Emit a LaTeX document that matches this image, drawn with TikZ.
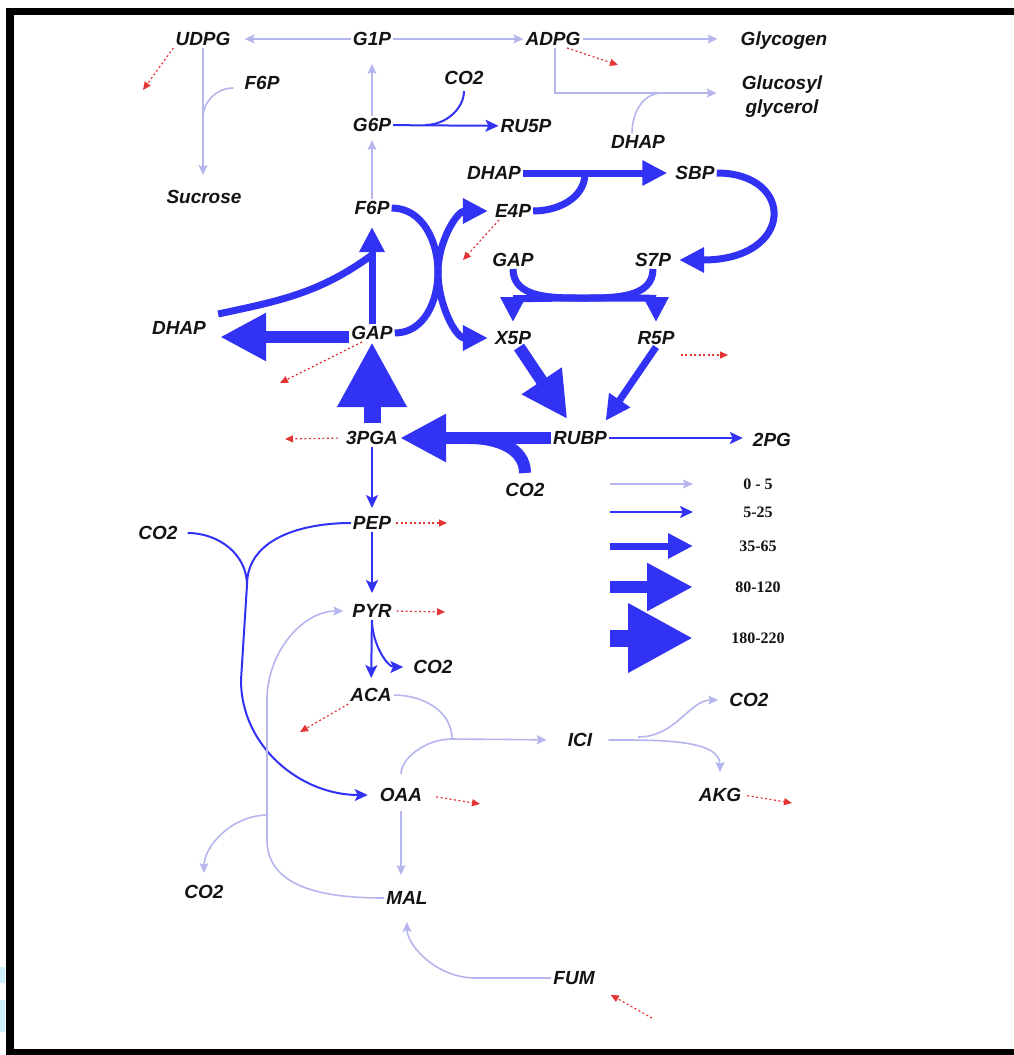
\documentclass[tikz,border=0pt]{standalone}
\usepackage{fontspec}
\setmainfont{Liberation Sans}
\newfontfamily\legendfont{Liberation Serif}
\usetikzlibrary{arrows.meta}

\definecolor{flux}{RGB}{50,50,245}
\definecolor{lite}{RGB}{182,182,238}
\definecolor{drainred}{RGB}{228,52,52}
\definecolor{ink}{RGB}{20,20,20}
\definecolor{edgecyan}{RGB}{205,240,250}

\tikzset{
  metbase/.style={font=\fontsize{19}{24}\selectfont\bfseries\itshape, text=ink, inner sep=2pt},
  met/.style={metbase, text height=13.6pt, text depth=0pt},
  w0/.style={draw=lite, line width=1.6pt},
  w1/.style={draw=flux, line width=2pt},
  w2/.style={draw=flux, line width=7pt},
  w3/.style={draw=flux, line width=12pt},
  w4/.style={draw=flux, line width=17pt},
  f0/.style={w0, -{Stealth[length=10pt,width=9pt,inset=2pt]}},
  f1/.style={w1, -{Stealth[length=13pt,width=12pt,inset=3pt]}},
  f2/.style={w2, -{Triangle[length=25pt,width=24pt]}},
  f3/.style={w3, -{Triangle[length=46pt,width=45pt]}},
  f4/.style={w4, -{Triangle[length=65pt,width=65pt]}},
  drain/.style={draw=drainred, line width=1.2pt, dash pattern=on 2pt off 2.5pt,
    -{Triangle[length=8pt,width=7pt]}},
  legtxt/.style={font=\fontsize{16}{16}\selectfont\legendfont\bfseries, text=ink},
}

\begin{document}
\begin{tikzpicture}[x=1pt, y=1pt]
    \useasboundingbox (0,0) rectangle (1014,-1055);
    \fill[white] (0,0) rectangle (1014,-1055);

    % Frame
    \fill[black] (6,-7.5) rectangle (1014,-15);
    \fill[black] (6,-7.5) rectangle (14,-1055);
    \fill[black] (6,-1049) rectangle (1014,-1055);
    \fill[edgecyan] (0,-967) rectangle (5,-983);
    \fill[edgecyan] (0,-1000) rectangle (5,-1032);

    % Storage metabolites
    \node[met] (udpg) at (203,-39) {UDPG};
    \node[met] (gOneP) at (372,-39) {G1P};
    \node[met] (adpg) at (553,-39) {ADPG};
    \node[met] (glycogen) at (784,-39) {Glycogen};
    \node[metbase, align=center, anchor=north] (glucosyl) at (782,-74) {Glucosyl\\glycerol};
    \node[met] (fSixPtop) at (262,-83) {F6P};
    \node[met] (coTop) at (464,-78) {CO2};
    \node[met] (gSixP) at (372,-125) {G6P};
    \node[met] (ruFiveP) at (526,-126) {RU5P};
    \node[met] (dhapTop) at (638,-142) {DHAP};
    \node[met] (sucrose) at (204,-197) {Sucrose};

    % Calvin cycle metabolites
    \node[met] (dhapMid) at (494,-173) {DHAP};
    \node[met] (sbp) at (695,-173) {SBP};
    \node[met] (fSixP) at (372,-208) {F6P};
    \node[met] (eFourP) at (513,-211) {E4P};
    \node[met] (gapR) at (513,-260) {GAP};
    \node[met] (sSevenP) at (653,-260) {S7P};
    \node[met] (dhapL) at (179,-328) {DHAP};
    \node[met] (gap) at (372,-333) {GAP};
    \node[met] (xFiveP) at (513,-338) {X5P};
    \node[met] (rFiveP) at (656,-338) {R5P};
    \node[met] (pga) at (372,-438) {3PGA};
    \node[met] (rubp) at (580,-438) {RUBP};
    \node[met] (twoPG) at (772,-440) {2PG};
    \node[met] (coRubp) at (525,-490) {CO2};

    % Lower metabolism
    \node[met] (pep) at (372,-523) {PEP};
    \node[met] (coLeft) at (158,-533) {CO2};
    \node[met] (pyr) at (372,-611) {PYR};
    \node[met] (coPyr) at (433,-667) {CO2};
    \node[met] (aca) at (371,-695) {ACA};
    \node[met] (coIci) at (749,-700) {CO2};
    \node[met] (ici) at (580,-740) {ICI};
    \node[met] (oaa) at (401,-795) {OAA};
    \node[met] (akg) at (720,-795) {AKG};
    \node[met] (coBot) at (204,-892) {CO2};
    \node[met] (mal) at (407,-898) {MAL};
    \node[met] (fum) at (574,-978) {FUM};

    % Junction points
    \coordinate (sucJoin) at (203,-118);
    \coordinate (ruJoin) at (425,-125);
    \coordinate (ggJoin) at (662,-93);
    \coordinate (sbpJoin) at (585,-173);
    \coordinate (tkJoin) at (583,-298);
    \coordinate (f6Join) at (372,-255);
    \coordinate (rubJoin) at (470,-438);
    \coordinate (oaaJoin) at (247,-585);
    \coordinate (iciJoin) at (452,-739);
    \coordinate (coIciJoin) at (638,-737);
    \coordinate (coBotJoin) at (268,-815);

    % Storage fluxes
    \draw[f0, shorten >=12pt] (gOneP) -- (udpg);
    \draw[f0] (gOneP) -- (adpg);
    \draw[f0, shorten >=21pt] (adpg) -- (glycogen);
    \draw[f0, shorten >=23pt] ([xshift=2pt]adpg.south) |- ([yshift=4pt]glucosyl.west);
    \draw[w0] ([xshift=-6pt]dhapTop.north) to[out=90,in=180] (ggJoin);
    \draw[f0, shorten >=13pt] (udpg.south) -- (udpg.south |- sucrose.north);
    \draw[w0] ([xshift=-9pt,yshift=-5pt]fSixPtop.west) to[out=180,in=90] (sucJoin);
    \draw[f0, shorten >=16pt] (gSixP) -- (gOneP);
    \draw[f0, shorten >=6pt] (fSixP) -- (gSixP);
    \draw[f1] (gSixP) -- (ruFiveP);
    \draw[w1, shorten <=4pt] (coTop.south) to[out=-90,in=0] (ruJoin);

    % Calvin cycle fluxes
    \draw[f2, shorten >=6pt] (dhapMid) -- (sbp);
    \draw[w2] (eFourP.east) to[out=0,in=-90] (sbpJoin);
    \draw[f2] (sbp.east) .. controls +(79,0) and +(116,0) .. ([xshift=6pt]sSevenP.east);
    \draw[w2] (gapR.south) to[out=-90,in=180] (tkJoin);
    \draw[w2] (sSevenP.south) to[out=-90,in=0] (tkJoin);
    \draw[f2, shorten >=7pt] (tkJoin) to[out=180,in=90] (xFiveP.north);
    \draw[f2, shorten >=7pt] (tkJoin) to[out=0,in=90] (rFiveP.north);
    \draw[f2] (fSixP.east) to[out=0,in=90] (438,-272)
        to[out=-90,in=180] ([xshift=-5pt]xFiveP.west);
    \draw[f2] (gap.east) to[out=0,in=-90] (438,-272)
        to[out=90,in=180] ([xshift=-5pt]eFourP.west);
    \draw[f2, shorten >=10pt] (gap) -- (fSixP);
    \draw[w2] ([xshift=10pt,yshift=5pt]dhapL.north east) to[out=12,in=216] (f6Join);
    \draw[f3, shorten >=12pt] ([yshift=-4pt]gap.west) -- ([yshift=-4pt]gap.west -| dhapL.east);
    \draw[f4, shorten <=6pt] (pga) -- (gap);
    \draw[f3] (rubp) -- (pga);
    \draw[w3] ([yshift=8pt]coRubp.north) to[out=90,in=0] (rubJoin);
    \draw[f3, shorten >=12pt] (xFiveP) -- (rubp);
    \draw[f2, shorten >=10pt] (rFiveP.south) -- ([xshift=20pt]rubp.north);
    \draw[f1, shorten >=8pt] (rubp.east) -- (rubp.east -| twoPG.west);

    % Glycolysis and anaplerotic fluxes
    \draw[f1, shorten >=6pt] (pga) -- (pep);
    \draw[f1, shorten >=9pt] (pep) -- (pyr);
    \draw[f1, shorten >=8pt] (pyr) -- (aca);
    \draw[f1, shorten >=8pt] (pyr.south) to[out=-90,in=180] (coPyr.west);
    \draw[w1] (pep.west) to[out=180,in=90] (oaaJoin);
    \draw[w1] ([xshift=8pt]coLeft.east) to[out=0,in=90] (oaaJoin);
    \draw[f1] (oaaJoin) -- (241,-680) to[out=-90,in=180] ([xshift=-10pt]oaa.west);

    % TCA fluxes
    \draw[f0, shorten <=12pt, shorten >=19pt] (oaa.north) to[out=90,in=180] (iciJoin) -- (ici.west);
    \draw[w0] (aca.east) to[out=0,in=90] (iciJoin);
    \draw[f0, shorten >=14pt] ([xshift=14pt]ici.east) to[out=0,in=90] (akg.north);
    \draw[f0, shorten >=9pt] (coIciJoin) to[out=0,in=180] (coIci.west);
    \draw[f0, shorten <=7pt, shorten >=14pt] (oaa.south) -- (oaa.south |- mal.north);
    \draw[f0, shorten >=15pt] (fum.west) -- ++(-76,0) to[out=180,in=-90] (mal.south);
    \draw[f0, shorten >=7pt] (mal.west) to[out=180,in=-90] (267,-840) -- (267,-700)
        to[out=90,in=180] (pyr.west);
    \draw[f0, shorten >=10pt] (coBotJoin) to[out=180,in=90] (coBot.north);

    % Drains to biomass
    \coordinate (udpgSink) at (143,-90);
    \coordinate (adpgSink) at (618,-65);
    \coordinate (e4Sink) at (463,-260);
    \coordinate (gapSink) at (280,-383);
    \coordinate (pgaSink) at (285,-439);
    \coordinate (r5Sink) at (728,-355);
    \coordinate (pepSink) at (447,-523);
    \coordinate (pyrSink) at (445,-612);
    \coordinate (acaSink) at (300,-732);
    \coordinate (oaaSink) at (480,-804);
    \coordinate (akgSink) at (792,-803);
    \coordinate (fumSource) at (652,-1018);
    \draw[drain] (udpg.south west) -- (udpgSink);
    \draw[drain] ([xshift=14pt]adpg.south) -- (adpgSink);
    \draw[drain] ([xshift=-14pt]eFourP.south) -- (e4Sink);
    \draw[drain] ([xshift=-10pt]gap.south) -- (gapSink);
    \draw[drain, shorten <=6pt] (pga.west) -- (pgaSink);
    \draw[drain] ([shift={(4,-17)}]rFiveP.east) -- (r5Sink);
    \draw[drain, shorten <=3pt] (pep.east) -- (pepSink);
    \draw[drain, shorten <=3pt] (pyr.east) -- (pyrSink);
    \draw[drain] (aca.south west) -- (acaSink);
    \draw[drain, shorten <=12pt] (oaa.east) -- (oaaSink);
    \draw[drain, shorten <=4pt] (akg.east) -- (akgSink);
    \draw[drain, shorten >=16pt] (fumSource) -- (fum.south east);

    % Legend
    \foreach \cls/\ly/\txt in {f0/484/0 - 5, f1/512/5-25, f2/546/35-65, f3/587/80-120, f4/638/180-220}{
        \draw[\cls] (610,-\ly) -- (693,-\ly);
        \node[legtxt] at (758,-\ly) {\txt};
    }
\end{tikzpicture}
\end{document}
